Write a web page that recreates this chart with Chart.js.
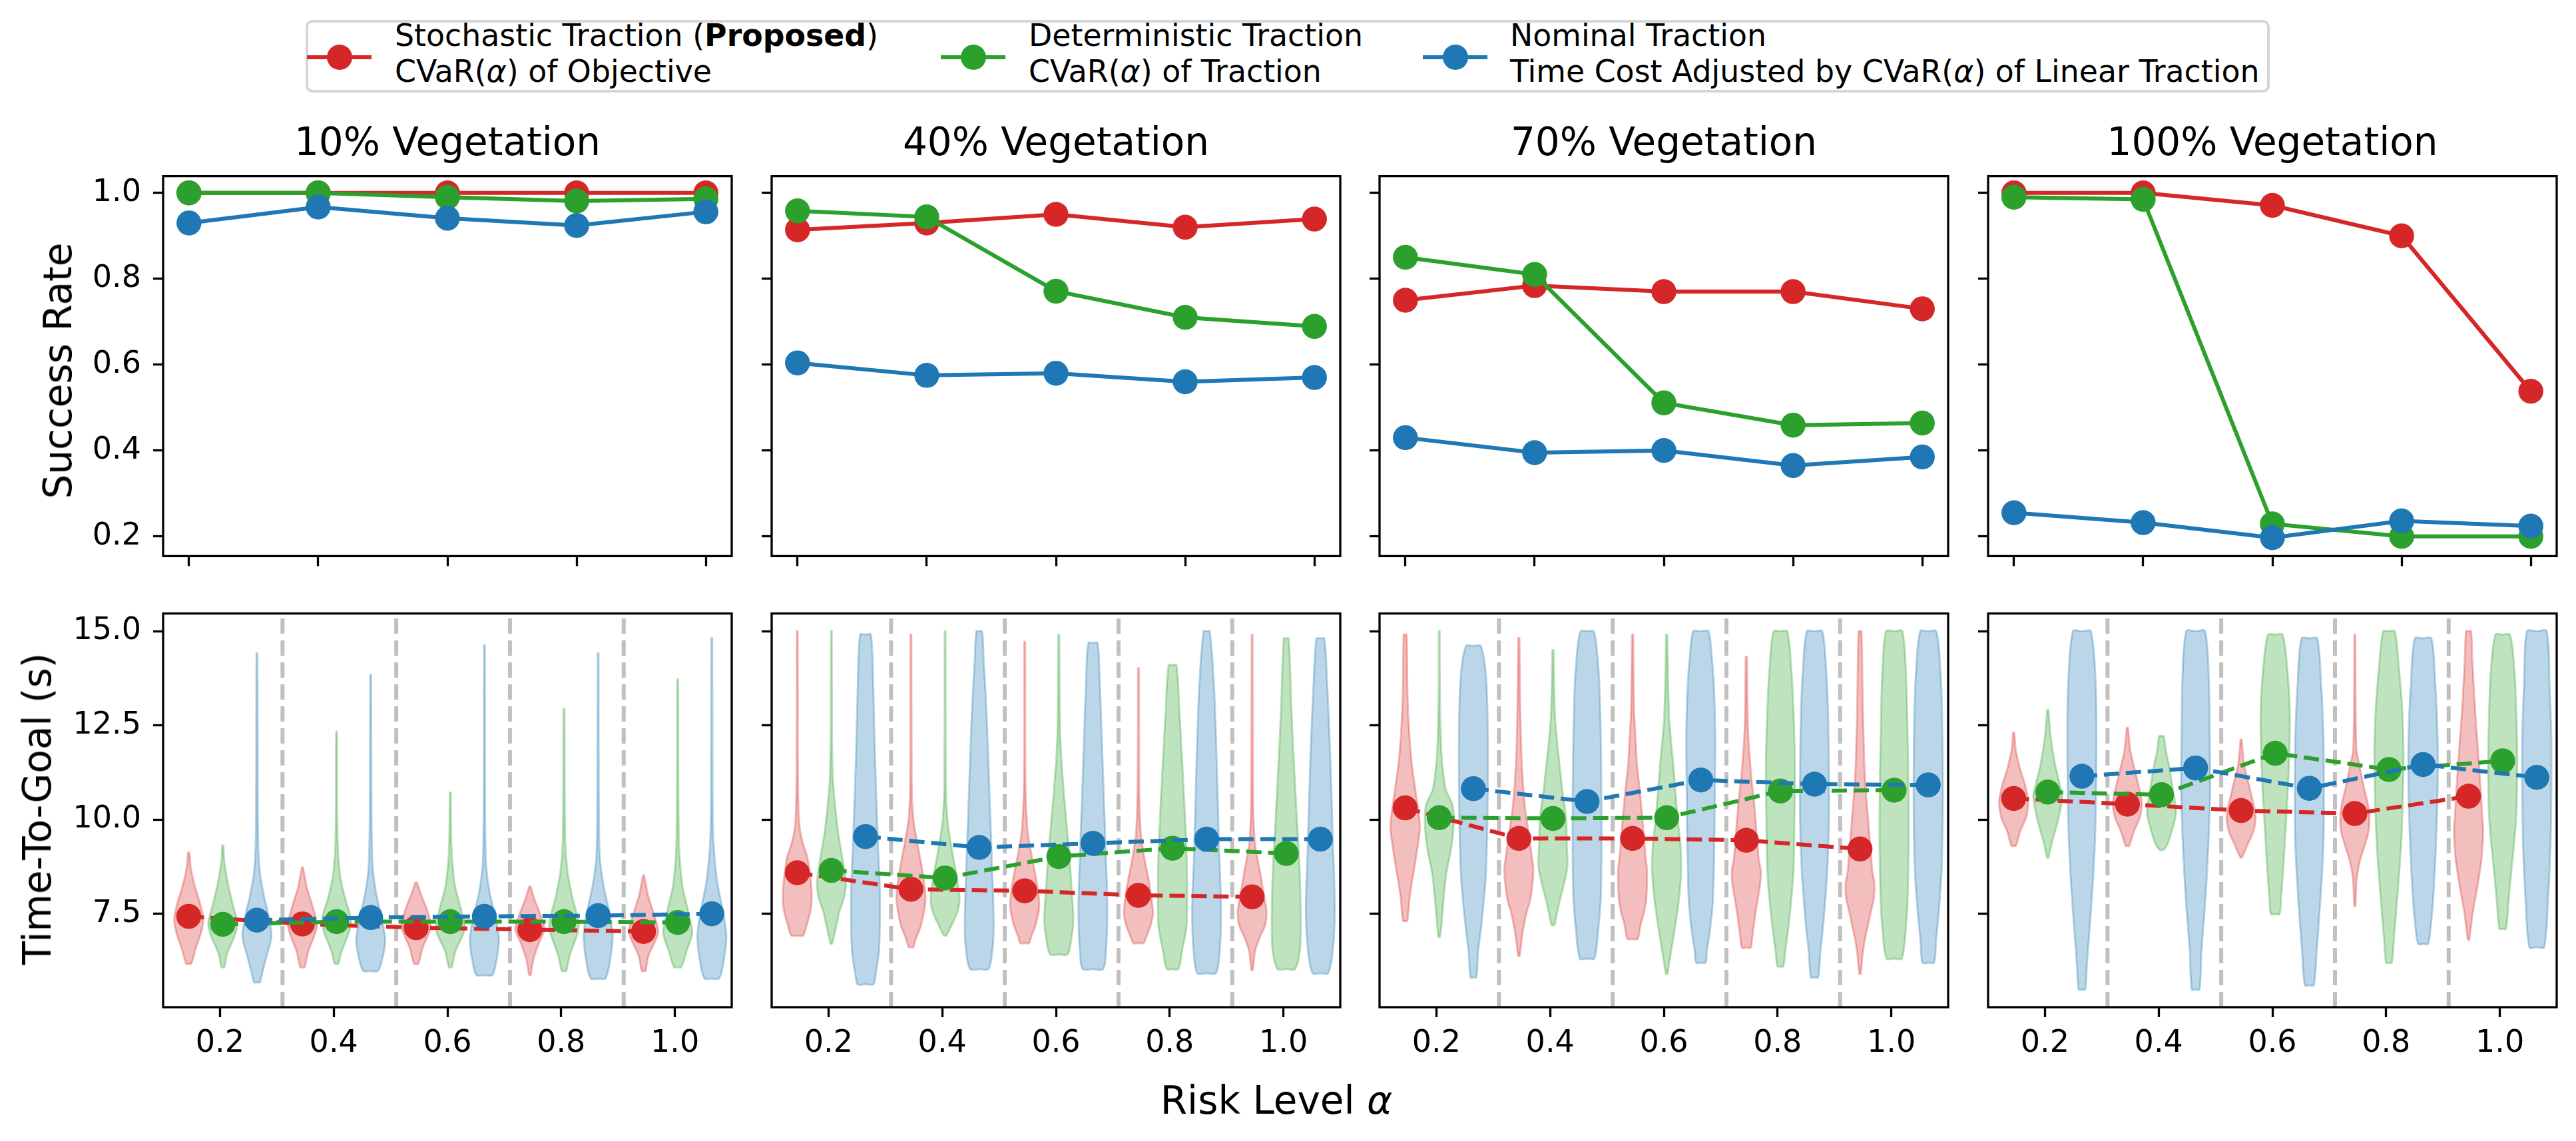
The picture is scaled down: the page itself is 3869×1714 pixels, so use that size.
<!DOCTYPE html>
<html><head><meta charset="utf-8">
<script src="https://cdn.jsdelivr.net/npm/chart.js@4.4.1/dist/chart.umd.min.js"></script>
<style>
html,body{margin:0;padding:0;background:#fff;}
#fig{position:relative;width:3869px;height:1714px;background:#fff;overflow:hidden;font-family:"DejaVu Sans";color:#000;}
#fig canvas{position:absolute;}
.txt{position:absolute;white-space:nowrap;color:#000;}
</style></head><body><div id="fig"></div>
<script>
// ---------------- DATA ----------------
const ALPHAS = [0.2, 0.4, 0.6, 0.8, 1.0];
const PANEL_TITLES = ['10% Vegetation', '40% Vegetation', '70% Vegetation', '100% Vegetation'];
const LEGEND_LINE1 = ['Stochastic Traction (<b>Proposed</b>)', 'Deterministic Traction', 'Nominal Traction'];
const LEGEND_LINE2 = ['CVaR(<i>α</i>) of Objective', 'CVaR(<i>α</i>) of Traction', 'Time Cost Adjusted by CVaR(<i>α</i>) of Linear Traction'];
const SUCCESS_TICKS = [0.2, 0.4, 0.6, 0.8, 1.0];
const TIME_TICKS = [7.5, 10.0, 12.5, 15.0];
const DIVIDERS = [0.31, 0.51, 0.71, 0.91];
const METHOD_OFFSETS = [-0.055, 0.005, 0.065];

// success rate [panel][alpha]
const SUCCESS_STOCHASTIC = [[1.0,1.0,1.0,1.0,1.0],[0.914,0.930,0.950,0.920,0.939],[0.750,0.784,0.770,0.770,0.730],[1.0,1.0,0.971,0.900,0.538]];
const SUCCESS_DETERMINISTIC = [[1.0,1.0,0.990,0.981,0.986],[0.958,0.944,0.771,0.710,0.689],[0.850,0.810,0.511,0.459,0.464],[0.990,0.985,0.229,0.200,0.200]];
const SUCCESS_NOMINAL = [[0.930,0.967,0.941,0.924,0.956],[0.604,0.575,0.580,0.560,0.570],[0.430,0.395,0.400,0.365,0.385],[0.255,0.232,0.197,0.236,0.224]];

// mean time-to-goal [panel][alpha]
const TTG_MEAN_STOCHASTIC = [[7.43,7.23,7.13,7.08,7.03],[8.59,8.15,8.11,7.99,7.95],[10.31,9.50,9.50,9.45,9.22],[10.56,10.41,10.24,10.16,10.62]];
const TTG_MEAN_DETERMINISTIC = [[7.22,7.29,7.29,7.29,7.27],[8.65,8.45,9.02,9.24,9.10],[10.05,10.03,10.05,10.76,10.78],[10.73,10.66,11.76,11.33,11.56]];
const TTG_MEAN_NOMINAL = [[7.33,7.40,7.43,7.45,7.50],[9.55,9.26,9.37,9.48,9.48],[10.82,10.48,11.05,10.94,10.92],[11.15,11.37,10.83,11.46,11.12]];

// violin profiles [panel][alpha] = [time, relative width, time, relative width, ...] from min to max
const VIOLIN_STOCHASTIC = [
 [[6.17,.17,6.6,.5,7.0,.85,7.35,1,7.75,.8,8.2,.45,8.7,.15,9.13,.04],
  [6.08,.15,6.5,.4,6.9,.8,7.2,1,7.7,.7,8.2,.3,8.73,.04],
  [6.17,.15,6.6,.45,7.15,1,7.6,.75,8.0,.35,8.33,.05],
  [5.87,.05,6.3,.25,6.7,.6,7.1,1,7.5,.7,7.9,.3,8.22,.05],
  [5.98,.12,6.4,.35,7.0,1,7.5,.7,8.0,.3,8.52,.04]],
 [[6.92,.4,7.2,.65,7.55,.9,7.9,1,8.3,.95,8.63,.85,9.0,.7,9.35,.4,9.7,.2,10.1,.1,11.5,.04,15.0,.03],
  [6.61,.15,6.85,.35,7.2,.7,7.9,1,8.6,.8,9.35,.45,10.05,.15,11.0,.05,14.91,.03],
  [6.72,.3,6.9,.45,7.2,.75,7.7,1,8.3,.85,9.0,.5,9.7,.2,11.0,.05,14.72,.03],
  [6.72,.35,6.85,.5,7.2,.85,7.55,1,8.3,.75,9.0,.4,9.7,.15,11.0,.05,14.02,.03],
  [6.0,.05,6.5,.2,6.85,.5,7.2,.9,7.55,1,7.9,.85,8.6,.55,9.35,.2,10.5,.07,14.91,.03]],
 [[7.31,.15,7.9,.3,8.3,.45,9.0,.75,9.7,1,10.05,.97,10.8,.7,11.5,.45,12.2,.3,12.9,.2,13.6,.15,14.91,.1],
  [6.38,.05,6.84,.2,7.2,.35,7.56,.55,7.9,.8,8.63,1,9.0,.9,9.7,.65,10.4,.4,11.5,.2,12.9,.1,14.82,.04],
  [6.83,.35,7.2,.55,7.56,.8,7.91,.95,8.63,1,8.98,.9,9.7,.75,10.76,.5,11.47,.3,12.2,.2,12.9,.1,14.91,.04],
  [6.6,.3,6.84,.4,7.56,.65,8.27,.95,8.63,1,8.98,.85,9.69,.7,10.4,.55,11.12,.35,11.83,.2,12.54,.1,14.32,.04],
  [5.9,.05,6.49,.2,6.84,.35,7.2,.55,7.56,.75,7.91,.95,8.27,1,8.63,.85,9.34,.7,10.05,.55,10.76,.4,11.47,.3,12.9,.2,15.0,.1]],
 [[9.3,.15,9.69,.45,10.05,.85,10.48,1,10.9,.8,11.33,.45,11.83,.15,12.31,.04],
  [9.3,.12,9.69,.45,10.05,.85,10.41,1,10.76,.85,11.33,.5,11.83,.2,12.44,.04],
  [8.99,.05,9.34,.45,9.69,.85,10.05,1,10.41,.85,10.9,.55,11.47,.2,12.12,.04],
  [7.7,.04,8.27,.1,8.63,.2,8.98,.4,9.34,.7,9.69,.95,10.05,1,10.41,.9,10.9,.6,11.47,.3,11.83,.12,13.0,.05,14.91,.03],
  [6.81,.05,7.56,.3,8.27,.63,8.98,.9,9.69,1,10.05,.95,11.47,.72,12.9,.45,14.32,.25,15.0,.17]]
];
const VIOLIN_DETERMINISTIC = [
 [[6.08,.1,6.45,.3,6.9,.8,7.25,1,7.8,.65,8.4,.3,8.9,.1,9.31,.04],
  [6.17,.12,6.5,.35,7.0,.85,7.35,1,7.9,.6,8.5,.25,9.5,.07,12.33,.03],
  [6.08,.1,6.5,.35,7.1,1,7.6,.75,8.3,.3,9.3,.08,10.72,.03],
  [5.98,.15,6.4,.4,7.0,.95,7.3,1,7.9,.6,8.6,.25,9.5,.08,12.94,.03],
  [6.08,.25,6.5,.6,7.0,1,7.6,.7,8.3,.3,9.5,.08,13.72,.03]],
 [[6.70,.05,7.2,.35,7.55,.55,7.9,.85,8.3,1,9.0,.75,9.7,.45,10.4,.25,11.1,.1,12.5,.04,15.0,.03],
  [6.92,.08,7.2,.45,7.55,.85,7.9,1,8.6,.75,9.35,.4,10.05,.15,11.0,.05,15.0,.03],
  [6.42,.6,6.8,.85,7.3,1,7.9,.93,9.3,.67,10.8,.33,12.2,.1,14.91,.03],
  [6.03,.4,6.5,.65,7.2,.97,8.6,1,10.0,.87,11.5,.67,12.9,.47,14.1,.27],
  [6.03,.6,6.5,.93,7.2,1,8.6,.93,10.05,.73,11.5,.53,12.9,.36,14.81,.17]],
 [[6.88,.05,7.2,.15,7.9,.3,8.6,.5,9.3,.85,10.0,1,10.4,.9,10.8,.45,11.5,.2,12.2,.1,13.5,.04,15.0,.03],
  [7.2,.1,7.56,.3,7.9,.5,8.27,.75,8.77,1,9.34,.95,10.05,.9,10.76,.65,11.47,.45,12.2,.25,12.9,.12,14.5,.04],
  [5.9,.05,6.49,.3,7.2,.6,7.91,.85,8.63,1,9.34,.95,10.05,.75,10.76,.6,11.47,.45,12.54,.2,13.6,.1,14.91,.04],
  [6.1,.2,6.49,.33,7.2,.57,7.91,.76,8.63,.9,10.05,.97,11.47,1,12.9,.9,13.97,.76,15.0,.47],
  [6.31,.53,7.2,.83,7.91,.93,9.34,1,10.76,.99,12.19,.93,13.6,.84,15.0,.57]],
 [[8.99,.05,9.34,.25,9.69,.5,10.05,.75,10.62,1,10.9,.85,11.47,.5,12.19,.2,12.91,.04],
  [9.19,.12,9.34,.4,9.69,.7,10.19,1,10.76,.8,11.47,.5,11.83,.3,12.22,.15],
  [7.49,.3,7.91,.4,8.63,.54,10.05,.76,11.47,.95,12.9,1,13.97,.84,14.91,.5],
  [6.2,.2,6.84,.34,7.91,.57,9.34,.84,10.76,.97,11.83,1,12.9,.92,13.97,.7,15.0,.4],
  [7.1,.23,7.91,.42,8.63,.6,10.05,.93,11.47,1,12.54,.96,13.97,.81,14.91,.5]]
];
const VIOLIN_NOMINAL = [
 [[5.68,.2,5.9,.35,6.35,.65,6.9,1,7.45,.8,7.95,.5,8.6,.2,9.5,.08,12.0,.05,14.42,.03],
  [5.98,.5,6.3,.8,6.8,1,7.4,.75,8.0,.4,8.7,.15,10.0,.06,13.84,.03],
  [5.87,.55,6.3,.85,6.85,1,7.5,.7,8.1,.35,8.8,.12,10.0,.05,14.63,.03],
  [5.78,.5,6.2,.8,6.9,1,7.5,.8,8.2,.4,9.0,.12,10.5,.05,14.42,.03],
  [5.78,.5,6.2,.8,6.9,1,7.6,.75,8.4,.35,9.5,.1,11.0,.05,14.82,.03]],
 [[5.63,.55,5.9,.7,6.5,.93,7.9,1,9.3,.87,11.5,.67,13.6,.53,14.91,.37],
  [6.03,.63,6.5,.9,7.2,1,8.6,.9,10.8,.7,12.9,.5,14.3,.3,15.0,.2],
  [6.03,.7,6.5,.9,7.6,1,9.3,.87,11.5,.67,13.6,.48,14.69,.32],
  [5.92,.64,6.5,.9,7.6,1,9.3,.85,11.5,.7,13.6,.5,15.0,.21],
  [5.92,.53,6.5,.85,7.6,1,9.3,.87,11.5,.7,13.6,.47,14.81,.27]],
 [[5.81,.2,6.5,.33,7.2,.55,7.9,.73,8.6,.87,10.05,.97,11.5,1,12.9,.97,13.97,.83,14.61,.5],
  [6.31,.5,7.2,.8,8.0,.95,9.5,1,11.5,.97,13.25,.88,14.32,.72,15.0,.45],
  [6.2,.33,6.49,.41,7.2,.68,7.91,.84,9.34,.93,10.76,.97,12.2,1,13.6,.9,14.3,.76,15.0,.52],
  [5.81,.25,6.49,.4,7.2,.6,7.91,.75,8.63,.88,10.05,1,11.47,.99,12.9,.93,13.97,.8,15.0,.53],
  [6.2,.4,6.84,.55,7.56,.73,8.63,.92,10.05,1,11.47,1,12.9,.95,13.97,.84,15.0,.55]],
 [[5.49,.23,6.13,.34,7.2,.55,8.63,.8,10.05,.95,12.19,1,13.6,.95,15.0,.62],
  [5.49,.27,6.49,.4,7.91,.68,9.34,.88,10.76,1,12.19,.97,13.6,.92,15.0,.65],
  [5.6,.31,6.49,.5,7.91,.77,9.34,.97,10.76,1,12.19,.97,13.6,.81,14.81,.54],
  [6.7,.34,7.2,.54,7.91,.7,9.34,.89,10.76,1,12.19,1,13.6,.84,14.81,.57],
  [6.61,.51,7.91,.78,9.34,.95,10.76,1,12.19,1,13.6,.88,15.0,.68]]
];

// ---------------- STYLE / LAYOUT ----------------
const COLORS = ['#d62728', '#2ca02c', '#1f77b4'];
const RGB = ['214,39,40', '44,160,44', '31,119,180'];
const PANEL_X = [245, 1159, 2072, 2986];
const PANEL_W = 854;
const ROW_Y = [259, 916];
const PANEL_H = 597;
const TOP_X_RANGE = [0.16, 1.04], TOP_Y_RANGE = [0.154, 1.039];
const BOT_X_RANGE = [0.1, 1.1], BOT_Y_RANGE = [5.02, 15.47];
const LEFT_PAD = 160, TOP_PAD = 40, RIGHT_PAD = 30, BOTTOM_PAD = [25, 95];
const HALF_WIDTH = 0.0255;

const fig = document.getElementById('fig');
Chart.defaults.font.family = '"DejaVu Sans"';
Chart.defaults.color = '#000';

const framePlugin = {
  id: 'frame',
  afterDraw(chart) {
    const a = chart.chartArea, c = chart.ctx;
    c.save(); c.strokeStyle = '#000'; c.lineWidth = 3.3;
    c.strokeRect(a.left, a.top, a.right - a.left, a.bottom - a.top);
    c.restore();
  }
};

function axis(range, ticks, labelFn, fitProp, fitVal, pad) {
  return {
    type: 'linear', min: range[0], max: range[1], bounds: 'data',
    afterBuildTicks: s => { s.ticks = ticks.map(v => ({ value: v })); },
    afterFit: s => { s[fitProp] = fitVal; },
    ticks: { autoSkip: false, maxRotation: 0, minRotation: 0, padding: pad, font: { size: 46 }, color: '#000', callback: labelFn },
    grid: { display: true, drawOnChartArea: false, drawTicks: true, tickLength: 15, tickWidth: 3.3, tickColor: '#000' },
    border: { display: false }
  };
}

function addCanvas(left, top, w, h) {
  const c = document.createElement('canvas');
  c.width = w; c.height = h;
  c.style.left = left + 'px'; c.style.top = top + 'px';
  c.style.width = w + 'px'; c.style.height = h + 'px';
  fig.appendChild(c);
  return c;
}

function violinPoints(pos, k) {
  const n = k.length / 2, pts = [];
  pts.push({ x: pos, y: k[0] });
  for (let i = 0; i < n; i++) pts.push({ x: pos + HALF_WIDTH * k[2 * i + 1], y: k[2 * i] });
  pts.push({ x: pos, y: k[2 * (n - 1)] });
  for (let i = n - 1; i >= 0; i--) pts.push({ x: pos - HALF_WIDTH * k[2 * i + 1], y: k[2 * i] });
  pts.push({ x: pos, y: k[0] });
  return pts;
}

function baseOptions(xs, ys) {
  return {
    responsive: false, maintainAspectRatio: false, devicePixelRatio: 1, animation: false, events: [],
    layout: { padding: { top: TOP_PAD, right: RIGHT_PAD, left: 0, bottom: 0 } },
    plugins: { legend: { display: false }, tooltip: { enabled: false } },
    scales: { x: xs, y: ys }
  };
}

const fmt1 = v => Number(v).toFixed(1);
const SUCCESS = [SUCCESS_STOCHASTIC, SUCCESS_DETERMINISTIC, SUCCESS_NOMINAL];
const MEANS = [TTG_MEAN_STOCHASTIC, TTG_MEAN_DETERMINISTIC, TTG_MEAN_NOMINAL];
const VIOLINS = [VIOLIN_STOCHASTIC, VIOLIN_DETERMINISTIC, VIOLIN_NOMINAL];

for (let p = 0; p < 4; p++) {
  // ---- top row: success rate ----
  {
    const cv = addCanvas(PANEL_X[p] - LEFT_PAD, ROW_Y[0] - TOP_PAD, LEFT_PAD + PANEL_W + RIGHT_PAD, TOP_PAD + PANEL_H + BOTTOM_PAD[0]);
    const datasets = SUCCESS.map((arr, m) => ({
      data: ALPHAS.map((a, i) => ({ x: a, y: arr[p][i] })),
      borderColor: COLORS[m], backgroundColor: COLORS[m], borderWidth: 6,
      pointRadius: 18.75, pointHoverRadius: 18.75, pointBorderWidth: 0, pointBackgroundColor: COLORS[m],
      tension: 0, fill: false, order: 3 - m
    }));
    const xs = axis(TOP_X_RANGE, ALPHAS, () => '', 'height', BOTTOM_PAD[0], 0);
    const ys = axis(TOP_Y_RANGE, SUCCESS_TICKS, p === 0 ? fmt1 : () => '', 'width', LEFT_PAD, 18);
    new Chart(cv, { type: 'line', data: { datasets }, options: baseOptions(xs, ys), plugins: [framePlugin] });
  }
  // ---- bottom row: time to goal ----
  {
    const cv = addCanvas(PANEL_X[p] - LEFT_PAD, ROW_Y[1] - TOP_PAD, LEFT_PAD + PANEL_W + RIGHT_PAD, TOP_PAD + PANEL_H + BOTTOM_PAD[1]);
    const datasets = [];
    DIVIDERS.forEach(d => datasets.push({
      data: [{ x: d, y: BOT_Y_RANGE[0] }, { x: d, y: BOT_Y_RANGE[1] }],
      borderColor: '#c0c0c0', borderWidth: 6, borderDash: [23, 10], pointRadius: 0, fill: false, order: 40
    }));
    for (let m = 0; m < 3; m++) {
      for (let i = 0; i < ALPHAS.length; i++) {
        datasets.push({
          data: violinPoints(ALPHAS[i] + METHOD_OFFSETS[m], VIOLINS[m][p][i]),
          borderColor: 'rgba(' + RGB[m] + ',0.3)', backgroundColor: 'rgba(' + RGB[m] + ',0.3)',
          borderWidth: 3, pointRadius: 0, tension: 0.3, fill: 'shape', order: 30
        });
      }
    }
    for (let m = 0; m < 3; m++) {
      datasets.push({
        data: ALPHAS.map((a, i) => ({ x: a + METHOD_OFFSETS[m], y: MEANS[m][p][i] })),
        borderColor: COLORS[m], backgroundColor: COLORS[m], borderWidth: 6, borderDash: [23, 10],
        pointRadius: 18.75, pointHoverRadius: 18.75, pointBorderWidth: 0, pointBackgroundColor: COLORS[m],
        tension: 0, fill: false, order: 3 - m
      });
    }
    const xs = axis(BOT_X_RANGE, ALPHAS, fmt1, 'height', BOTTOM_PAD[1], 12);
    const ys = axis(BOT_Y_RANGE, TIME_TICKS, p === 0 ? fmt1 : () => '', 'width', LEFT_PAD, 18);
    new Chart(cv, { type: 'line', data: { datasets }, options: baseOptions(xs, ys), plugins: [framePlugin] });
  }
  // ---- panel title ----
  const t = document.createElement('div');
  t.className = 'txt';
  t.style.cssText = 'left:' + (PANEL_X[p] + PANEL_W / 2) + 'px;top:179px;font-size:58px;line-height:68px;transform:translateX(-50%);';
  t.textContent = PANEL_TITLES[p];
  fig.appendChild(t);
}

// axis labels
function addText(html, css) { const d = document.createElement('div'); d.className = 'txt'; d.style.cssText = css; d.innerHTML = html; fig.appendChild(d); return d; }
addText('Success Rate', 'left:87px;top:557px;font-size:58px;line-height:58px;transform:translate(-50%,-50%) rotate(-90deg);');
addText('Time-To-Goal (s)', 'left:56px;top:1215px;font-size:58px;line-height:58px;transform:translate(-50%,-50%) rotate(-90deg);');
addText('Risk Level <i>α</i>', 'left:1917px;top:1619px;font-size:58px;line-height:68px;transform:translateX(-50%);');

// legend
addText('', 'left:459px;top:30px;width:2950px;height:109px;box-sizing:border-box;border:4px solid #d6d6d6;border-radius:10px;background:#fff;');
const HANDLE_X = [461, 1413, 2137], TEXT_X = [593, 1545, 2268];
for (let m = 0; m < 3; m++) {
  addText('', 'left:' + HANDLE_X[m] + 'px;top:83px;width:97px;height:6px;background:' + COLORS[m] + ';');
  addText('', 'left:' + (HANDLE_X[m] + 48.5 - 19) + 'px;top:67px;width:38px;height:38px;border-radius:50%;background:' + COLORS[m] + ';');
  addText(LEGEND_LINE1[m] + '<br>' + LEGEND_LINE2[m], 'left:' + TEXT_X[m] + 'px;top:26px;font-size:45.8px;line-height:54px;');
}
</script></body></html>
